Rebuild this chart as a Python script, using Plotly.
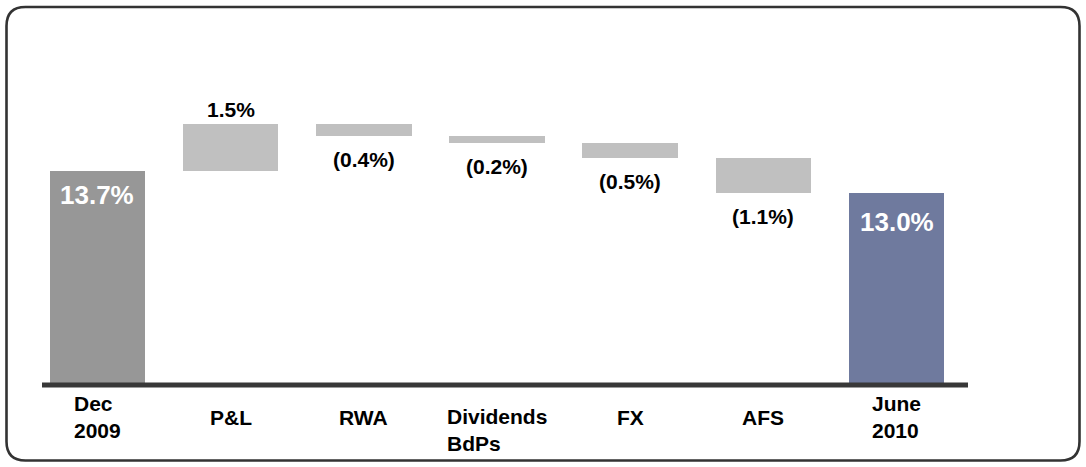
import numpy as np
import plotly.graph_objects as go

# ---------------- data ----------------
categories = ["Dec 2009", "P&L", "RWA", "Dividends BdPs", "FX", "AFS", "June 2010"]
tick_labels = ["Dec<br>2009", "P&L", "RWA", "Dividends<br>BdPs", "FX", "AFS", "June<br>2010"]
start_value = 13.7
changes = [1.5, -0.4, -0.2, -0.5, -1.1]
end_value = 13.0

# ---------------- derived ----------------
after = start_value + np.cumsum(changes)
before = np.concatenate([[start_value], after[:-1]])
bases = np.minimum(before, after)
heights = np.abs(changes)

bar_y = [start_value] + list(heights) + [end_value]
bar_base = [0] + list(bases) + [0]
colors = ["#979797"] + ["#c0c0c0"] * len(changes) + ["#6f7a9e"]

FONT = "Liberation Sans, Arial, sans-serif"
W, H = 1086, 467
L, R, T, B = 42, 118, 30, 82
pw, ph = W - L - R, H - T - B

fig = go.Figure()
fig.add_trace(go.Bar(
    x=categories, y=bar_y, base=bar_base,
    marker=dict(color=colors, line=dict(width=0)),
    width=0.717, hoverinfo="skip", showlegend=False,
))

ann = []
# totals (white, inside)
for cat, val, sh in [(categories[0], start_value, -7), (categories[-1], end_value, -12)]:
    ann.append(dict(x=cat, y=val, xref="x", yref="y", text=f"{val:.1f}%",
                    showarrow=False, yanchor="top", yshift=sh,
                    font=dict(family=FONT, size=26, color="white", weight="bold")))
# deltas
for cat, c, a in zip(categories[1:-1], changes, after):
    if c >= 0:
        txt, ya, sh = f"{c:.1f}%", "bottom", 1
    else:
        txt, ya, sh = f"({abs(c):.1f}%)", "top", -10
    ann.append(dict(x=cat, y=a, xref="x", yref="y", text=txt, showarrow=False,
                    yanchor=ya, yshift=sh,
                    font=dict(family=FONT, size=21, color="black", weight="bold")))
# category labels
label_valign = ["middle", "middle", "middle", "top", "middle", "middle", "middle"]
for cat, lab, va in zip(categories, tick_labels, label_valign):
    ann.append(dict(x=cat, y=0, xref="x", yref="paper", text=lab, showarrow=False,
                    align="left", xanchor="center", yanchor=va,
                    yshift=-32 if va == "middle" else -18,
                    font=dict(family=FONT, size=21, color="black", weight="bold")))

# rounded border in paper coords
def px(X):
    return (X - L) / pw

def py(Y):
    return (H - B - Y) / ph

l_, r_, t_, b_, rad = 6.5, 1079.5, 7, 460.5, 19
pts = [
    ("M", [(l_ + rad, t_)]), ("L", [(r_ - rad, t_)]), ("Q", [(r_, t_), (r_, t_ + rad)]),
    ("L", [(r_, b_ - rad)]), ("Q", [(r_, b_), (r_ - rad, b_)]),
    ("L", [(l_ + rad, b_)]), ("Q", [(l_, b_), (l_, b_ - rad)]),
    ("L", [(l_, t_ + rad)]), ("Q", [(l_, t_), (l_ + rad, t_)]),
]
path = " ".join(cmd + " " + " ".join(f"{px(x):.5f},{py(y):.5f}" for x, y in p) for cmd, p in pts) + " Z"

shapes = [
    dict(type="path", xref="paper", yref="paper", path=path,
         line=dict(color="#333333", width=2.6), fillcolor="rgba(0,0,0,0)"),
    dict(type="line", xref="paper", yref="paper", x0=0, x1=1, y0=0, y1=0,
         line=dict(color="#383838", width=5), layer="above"),
]

fig.update_layout(
    width=W, height=H,
    margin=dict(l=L, r=R, t=T, b=B, pad=0),
    paper_bgcolor="white", plot_bgcolor="white",
    xaxis=dict(type="category", range=[-0.416, 6.536], showticklabels=False,
               showgrid=False, zeroline=False, showline=False, ticks="", fixedrange=True),
    yaxis=dict(range=[6.899, 18.18], visible=False, showgrid=False, zeroline=False,
               fixedrange=True),
    annotations=ann, shapes=shapes, bargap=0,
)

fig.write_html("out.html", config={"displayModeBar": False},
               post_script="document.body.style.margin='0';document.body.style.padding='0';document.body.style.overflow='hidden';")
